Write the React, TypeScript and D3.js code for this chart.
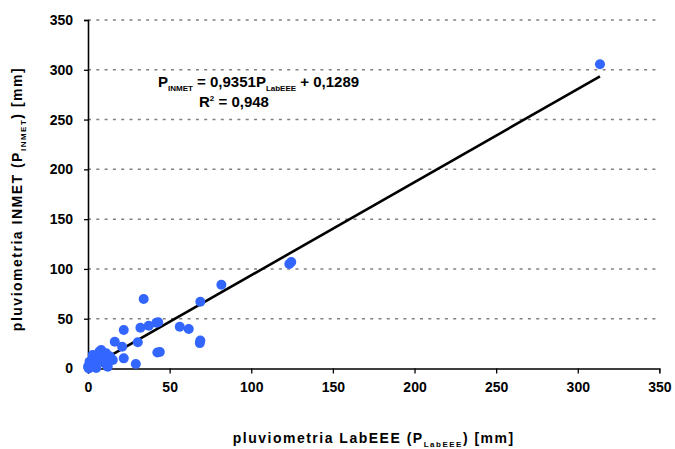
import { useEffect, useRef } from 'react'
import * as d3 from 'd3'

// pluviometria LabEEE (x) vs INMET (y), mm
const labEEE = [
  313.6, 123.3, 124.5, 81.7, 34.1, 68.8, 41.9, 43, 37.2, 32.1, 21.9, 56.2, 61.7,
  68.8, 68.5, 16.4, 20.9, 30.5, 42.5, 44, 21.9, 29.3, 8.1, 7, 11.1, 2.9, 0.9, 6,
  10.1, 12.1, 4, 0, 8.1, 15.2, 13.5, 2, 5, 0.5,
]
const inmet = [
  305.5, 105, 107, 84.2, 69.8, 67.1, 46, 46.5, 43, 41, 38.7, 42, 39.7,
  28, 25.5, 26.9, 21.9, 26.3, 16, 16.5, 10.2, 4.5, 18.6, 17, 15.3, 13.6, 6.8, 8.5,
  5.2, 1.8, 1.8, 1.8, 10.2, 8.5, 12, 4, 0.5, 0,
]
const ticks = [0, 50, 100, 150, 200, 250, 300, 350]
const slope = 0.9351
const intercept = 0.1289

export default function App() {
  const svgRef = useRef<SVGSVGElement>(null)

  useEffect(() => {
    if (!svgRef.current) return
    const width = 675
    const height = 449
    const margin = { top: 20, right: 15.6, bottom: 80.5, left: 88 }
    const innerW = width - margin.left - margin.right
    const innerH = height - margin.top - margin.bottom
    const font = 'Liberation Sans, Arial, sans-serif'

    const svg = d3.select(svgRef.current)
    svg.selectAll('*').remove()
    svg.attr('width', width).attr('height', height)

    const g = svg.append('g').attr('transform', `translate(${margin.left},${margin.top})`)

    const x = d3.scaleLinear().domain([0, 350]).range([0, innerW])
    const y = d3.scaleLinear().domain([0, 350]).range([innerH, 0])

    // Grid
    g.append('g')
      .selectAll('line')
      .data(ticks.filter(t => t > 0))
      .join('line')
      .attr('x1', 0).attr('x2', innerW)
      .attr('y1', d => y(d)).attr('y2', d => y(d))
      .attr('stroke', '#808080').attr('stroke-width', 1.5)
      .attr('stroke-dasharray', '3,5.3')

    // Axes
    const xAx = g.append('g')
      .attr('transform', `translate(0,${innerH})`)
      .call(d3.axisBottom(x).tickValues(ticks).tickSize(5).tickPadding(9).tickFormat(d => String(d)))
    const yAx = g.append('g')
      .call(d3.axisLeft(y).tickValues(ticks).tickSize(4).tickPadding(11).tickFormat(d => String(d)))
    ;[xAx, yAx].forEach(ax => {
      ax.select('.domain').attr('stroke', '#000').attr('stroke-width', 1.6)
      ax.selectAll('line').attr('stroke', '#000').attr('stroke-width', 1.3)
      ax.selectAll('text')
        .attr('fill', '#000').attr('font-size', '14px').attr('font-weight', 'bold')
        .attr('font-family', font)
    })
    xAx.selectAll('.tick').filter(d => d === 350).select('line').remove()

    // Trend line
    const xMin = d3.min(labEEE) ?? 0
    const xMax = d3.max(labEEE) ?? 0
    g.append('line')
      .attr('x1', x(xMin)).attr('y1', y(slope * xMin + intercept))
      .attr('x2', x(xMax)).attr('y2', y(slope * xMax + intercept))
      .attr('stroke', '#000').attr('stroke-width', 2.6)

    // Points
    g.append('g')
      .selectAll('circle')
      .data(labEEE.map((v, i) => [v, inmet[i]]))
      .join('circle')
      .attr('cx', d => x(d[0])).attr('cy', d => y(d[1]))
      .attr('r', 5)
      .attr('fill', '#3366FF')

    // Equation
    const eq = svg.append('text')
      .attr('x', 158).attr('y', 87)
      .attr('font-family', font).attr('font-size', '15px').attr('font-weight', 'bold')
      .attr('fill', '#000')
    eq.append('tspan').text('P')
    eq.append('tspan').attr('dy', 4).attr('font-size', '8px').text('INMET')
    eq.append('tspan').attr('dy', -4).text(' = 0,9351P')
    eq.append('tspan').attr('dy', 4).attr('font-size', '8px').text('LabEEE')
    eq.append('tspan').attr('dy', -4).text(' + 0,1289')

    const r2 = svg.append('text')
      .attr('x', 199).attr('y', 107)
      .attr('font-family', font).attr('font-size', '15px').attr('font-weight', 'bold')
      .attr('fill', '#000')
    r2.append('tspan').text('R')
    r2.append('tspan').attr('dy', -6).attr('font-size', '8px').text('2')
    r2.append('tspan').attr('dy', 6).text(' = 0,948')

    // X title
    const xt = svg.append('text')
      .attr('x', margin.left + innerW / 2 - 0).attr('y', 443)
      .attr('text-anchor', 'middle')
      .attr('font-family', font).attr('font-size', '14px').attr('font-weight', 'bold')
      .attr('letter-spacing', '1.5px')
      .attr('fill', '#000')
    xt.append('tspan').text('pluviometria LabEEE (P')
    xt.append('tspan').attr('dy', 4).attr('font-size', '8px').text('LabEEE')
    xt.append('tspan').attr('dy', -4).text(') [mm]')

    // Y title
    const yt = svg.append('text')
      .attr('transform', `translate(22,${199}) rotate(-90)`)
      .attr('text-anchor', 'middle')
      .attr('font-family', font).attr('font-size', '14px').attr('font-weight', 'bold')
      .attr('letter-spacing', '1.5px')
      .attr('fill', '#000')
    yt.append('tspan').text('pluviometria INMET (P')
    yt.append('tspan').attr('dy', 4).attr('font-size', '8px').text('INMET')
    yt.append('tspan').attr('dy', -4).text(') [mm]')
  }, [])

  return (
    <div style={{ position: 'absolute', left: 0, top: 0, width: 675, height: 449, background: '#fff' }}>
      <svg ref={svgRef} style={{ display: 'block' }} />
    </div>
  )
}
